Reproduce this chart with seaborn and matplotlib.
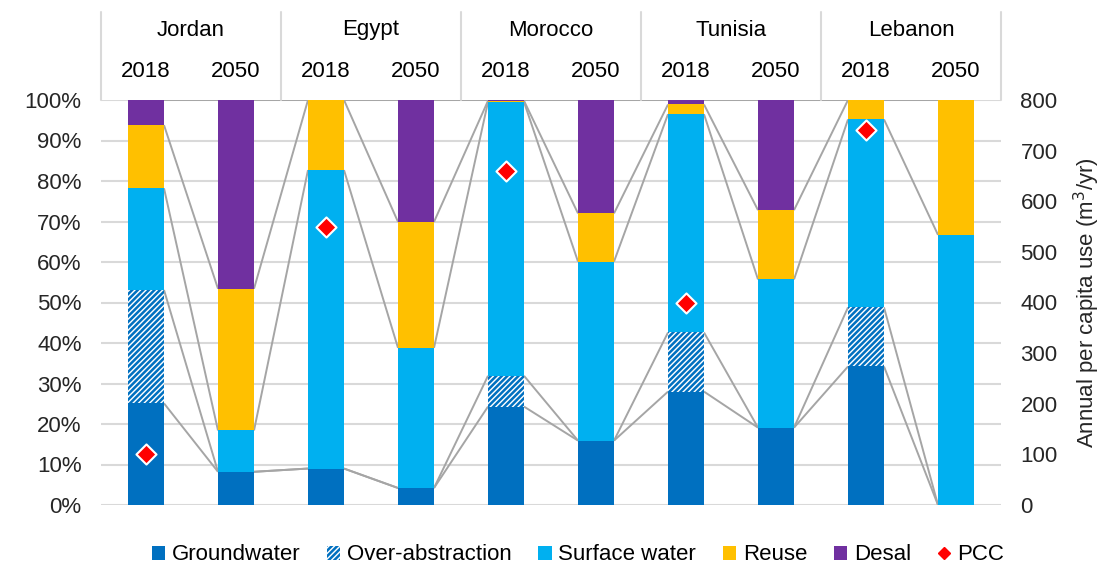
import numpy as np
import pandas as pd
import matplotlib
matplotlib.use("Agg")
import matplotlib.pyplot as plt
import seaborn as sns
from matplotlib.transforms import blended_transform_factory
from matplotlib.patches import Patch
from matplotlib.lines import Line2D

# --- data: share of water supply by source (%) and per-capita use (m3/yr) ---
countries = ["Jordan", "Egypt", "Morocco", "Tunisia", "Lebanon"]
years = ["2018", "2050"]

groundwater      = [25.1,  8.2,  9.0,  4.2, 24.3, 15.9, 28.0, 19.1, 34.2,  0.0]
over_abstraction = [28.0,  0.0,  0.0,  0.0,  7.6,  0.0, 14.6,  0.0, 14.6,  0.0]
surface_water    = [25.1, 10.2, 73.7, 34.6, 67.6, 44.2, 53.9, 36.6, 46.4, 66.7]
reuse            = [15.6, 35.0, 17.3, 31.1,  0.3, 11.9,  2.4, 17.1,  4.8, 33.3]
desal            = [ 6.2, 46.6,  0.0, 30.1,  0.2, 28.0,  1.1, 27.2,  0.0,  0.0]
pcc              = [100, np.nan, 550, np.nan, 660, np.nan, 400, np.nan, 740, np.nan]

series_names = ["Groundwater", "Over-abstraction", "Surface water", "Reuse", "Desal"]
series_colors = ["#0070C0", "#FFFFFF", "#00B0F0", "#FFC000", "#7030A0"]
hatch_color = "#0070C0"
line_gray = "#A5A5A5"
grid_gray = "#D9D9D9"

bar_keys = [f"{c} {y}" for c in countries for y in years]
values = np.array([groundwater, over_abstraction, surface_water, reuse, desal])
tops = np.cumsum(values, axis=0)

df = pd.DataFrame({"bar": bar_keys, "pcc": pcc})
for name, top in zip(series_names, tops):
    df[name] = top
df["pos"] = np.arange(len(bar_keys))

sns.set_theme(style="white")
plt.rcParams["font.family"] = ["Liberation Sans", "DejaVu Sans"]
plt.rcParams["hatch.linewidth"] = 1.8
plt.rcParams["text.color"] = "black"

FS = 16
HATCH = "//////"
fig = plt.figure(figsize=(11.05, 5.66), dpi=100)
ax = fig.add_axes([101 / 1105, 61 / 566, 900 / 1105, 405 / 566])

# stacked bars: draw cumulative tops from the top layer down
for k in reversed(range(len(series_names))):
    sns.barplot(data=df, x="bar", y=series_names[k], order=bar_keys, ax=ax,
                color=series_colors[k], width=0.4, saturation=1,
                errorbar=None, linewidth=0, zorder=3)
    if series_names[k] == "Over-abstraction":
        for p in ax.containers[-1]:
            p.set_hatch(HATCH)
            p.set_edgecolor(hatch_color)
            p.set_linewidth(0)

# series lines joining segment tops of neighbouring bars
half = 0.2
for k in range(len(series_names)):
    for i in range(len(bar_keys) - 1):
        ax.plot([i + half, i + 1 - half], [tops[k, i], tops[k, i + 1]],
                color=line_gray, lw=1.4, zorder=2, solid_capstyle="butt")

ax.set_xlim(-0.5, len(bar_keys) - 0.5)
ax.set_ylim(0, 100)
ax.set_yticks(range(0, 101, 10))
ax.set_yticklabels([f"{v}%" for v in range(0, 101, 10)], fontsize=FS)
ax.yaxis.grid(True, color=grid_gray, lw=1.5)
ax.set_axisbelow(True)
ax.tick_params(axis="x", length=0, labelbottom=False)
ax.tick_params(axis="y", length=0, pad=14)
ax.set_xlabel("")
ax.set_ylabel("")
for s in ax.spines.values():
    s.set_visible(False)

# per-capita use on the secondary axis
ax2 = ax.twinx()
sns.scatterplot(data=df, x="pos", y="pcc", ax=ax2, marker="D", s=105,
                color="#FF0000", edgecolor="white", linewidth=1.5, zorder=5)
ax2.set_ylim(0, 800)
ax2.set_xlim(-0.5, len(bar_keys) - 0.5)
ax2.set_yticks(range(0, 801, 100))
ax2.set_yticklabels([str(v) for v in range(0, 801, 100)], fontsize=FS)
ax2.tick_params(axis="y", length=0, pad=14)
ax2.set_xlabel("")
ax2.set_ylabel("Annual per capita use (m$^3$/yr)", fontsize=FS, labelpad=10)
for s in ax2.spines.values():
    s.set_visible(False)

# two-level category header above the plot
trans = blended_transform_factory(ax.transData, ax.transAxes)
header_top = 1 + 88 / 405
for j in range(len(countries) + 1):
    x = -0.5 + 2 * j
    ax.plot([x, x], [1.0, header_top], transform=trans, color=grid_gray,
            lw=1.5, clip_on=False)
for j, c in enumerate(countries):
    ax.text(2 * j + 0.5, 1 + 70 / 405, c, transform=trans, ha="center",
            va="center", fontsize=FS)
    for i, y in enumerate(years):
        ax.text(2 * j + i, 1 + 29 / 405, y, transform=trans, ha="center",
                va="center", fontsize=FS)

# legend
handles = [Patch(facecolor=series_colors[0], edgecolor="none"),
           Patch(facecolor="white", hatch=HATCH, edgecolor=hatch_color, lw=0),
           Patch(facecolor=series_colors[2], edgecolor="none"),
           Patch(facecolor=series_colors[3], edgecolor="none"),
           Patch(facecolor=series_colors[4], edgecolor="none"),
           Line2D([], [], marker="D", color="#FF0000", ls="none", markersize=6)]
fig.legend(handles, series_names + ["PCC"], loc="center",
           bbox_to_anchor=(578 / 1105, 11 / 566), ncol=6, frameon=False,
           fontsize=FS, handlelength=0.6, handleheight=0.6, handletextpad=0.3,
           columnspacing=1.2)

fig.savefig("out.png", dpi=100)
